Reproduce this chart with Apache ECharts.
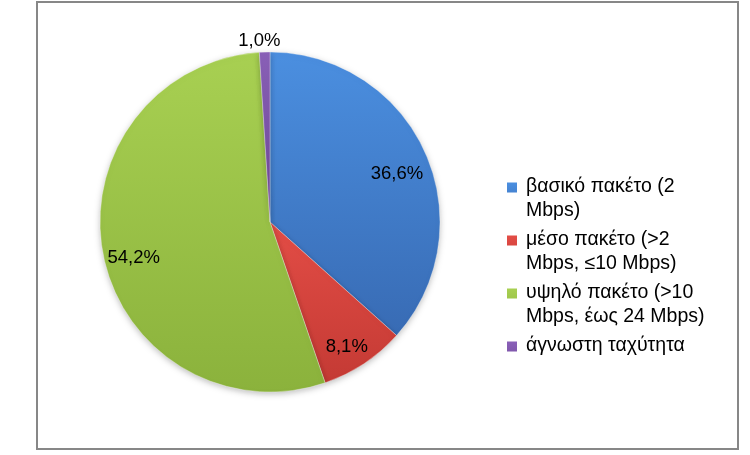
<!DOCTYPE html>
<html><head><meta charset="utf-8">
<script src="https://cdn.jsdelivr.net/npm/echarts@6/dist/echarts.min.js"></script>
<style>
html,body{margin:0;padding:0;background:#fff}
#c{width:750px;height:455px;position:absolute;left:0;top:0}
#f{position:absolute;left:36px;top:1px;width:699px;height:445px;border:2px solid #878787;pointer-events:none}
</style>
</head><body><div id="c"></div><div id="f"></div>
<script>
const categories = ['βασικό πακέτο (2 Mbps)', 'μέσο πακέτο (>2 Mbps, ≤10 Mbps)', 'υψηλό πακέτο (>10 Mbps, έως 24 Mbps)', 'άγνωστη ταχύτητα'];
const legendLabels = ['βασικό πακέτο (2\nMbps)', 'μέσο πακέτο (>2\nMbps, ≤10 Mbps)', 'υψηλό πακέτο (>10\nMbps, έως 24 Mbps)', 'άγνωστη ταχύτητα\n '];
const values = [36.6, 8.1, 54.2, 1.0];
const colorsTop = ['#4b8fe0', '#e34d46', '#a8d052', '#8a60b8'];
const colorsBottom = ['#386bb4', '#c43a34', '#8bb23c', '#6c4794'];

const FONT = 'Liberation Sans';
const R = 170;
const fmt = v => v.toFixed(1).replace('.', ',') + '%';
const iconPath = 'path://M0,0L10,0L10,10L0,10Z M0,32L0.01,32L0,32.01Z';

const grad = i => new echarts.graphic.LinearGradient(0, 0, 0, 1, [
  { offset: 0, color: colorsTop[i] }, { offset: 1, color: colorsBottom[i] }
]);

const pieData = categories.map((n, i) => ({ name: n, value: values[i], itemStyle: { color: grad(i) } }));
const labelData = categories.map((n, i) => {
  const d = { name: n, value: values[i] };
  if (i === 3) d.label = { position: 'outside' };
  return d;
});

const chart = echarts.init(document.getElementById('c'), null, { renderer: 'canvas' });
chart.setOption({
  animation: false,
  legend: {
    orient: 'vertical',
    left: 507,
    top: 175,
    padding: 0,
    itemWidth: 10,
    itemHeight: 32,
    itemGap: 6,
    icon: iconPath,
    data: categories,
    formatter: name => legendLabels[categories.indexOf(name)],
    textStyle: { fontFamily: FONT, fontSize: 19.5, lineHeight: 23.5, color: '#000', padding: [0, 0, 0, 4] },
    itemStyle: { shadowBlur: 0, shadowColor: 'transparent', borderWidth: 0 }
  },
  series: [
    {
      type: 'pie',
      center: [270, 222],
      radius: [0, R],
      startAngle: 90,
      clockwise: true,
      label: { show: false },
      labelLine: { show: false },
      itemStyle: { borderColor: 'rgba(255,255,255,0.4)', borderWidth: 0.8, shadowBlur: 6, shadowOffsetY: 2, shadowColor: 'rgba(0,0,0,0.25)' },
      emphasis: { disabled: true },
      data: pieData
    },
    {
      type: 'pie',
      silent: true,
      center: [270, 222],
      radius: [R * 0.6, R],
      startAngle: 90,
      clockwise: true,
      itemStyle: { color: 'transparent' },
      label: {
        show: true,
        position: 'inside',
        fontFamily: FONT,
        fontSize: 18.5,
        color: '#000',
        formatter: p => fmt(p.value)
      },
      labelLine: { show: false, length: 11, length2: 0 },
      labelLayout: p => (p.dataIndex === 3 ? { align: 'center' } : { dy: 9 }),
      emphasis: { disabled: true },
      data: labelData
    }
  ]
});
</script>
</body></html>
